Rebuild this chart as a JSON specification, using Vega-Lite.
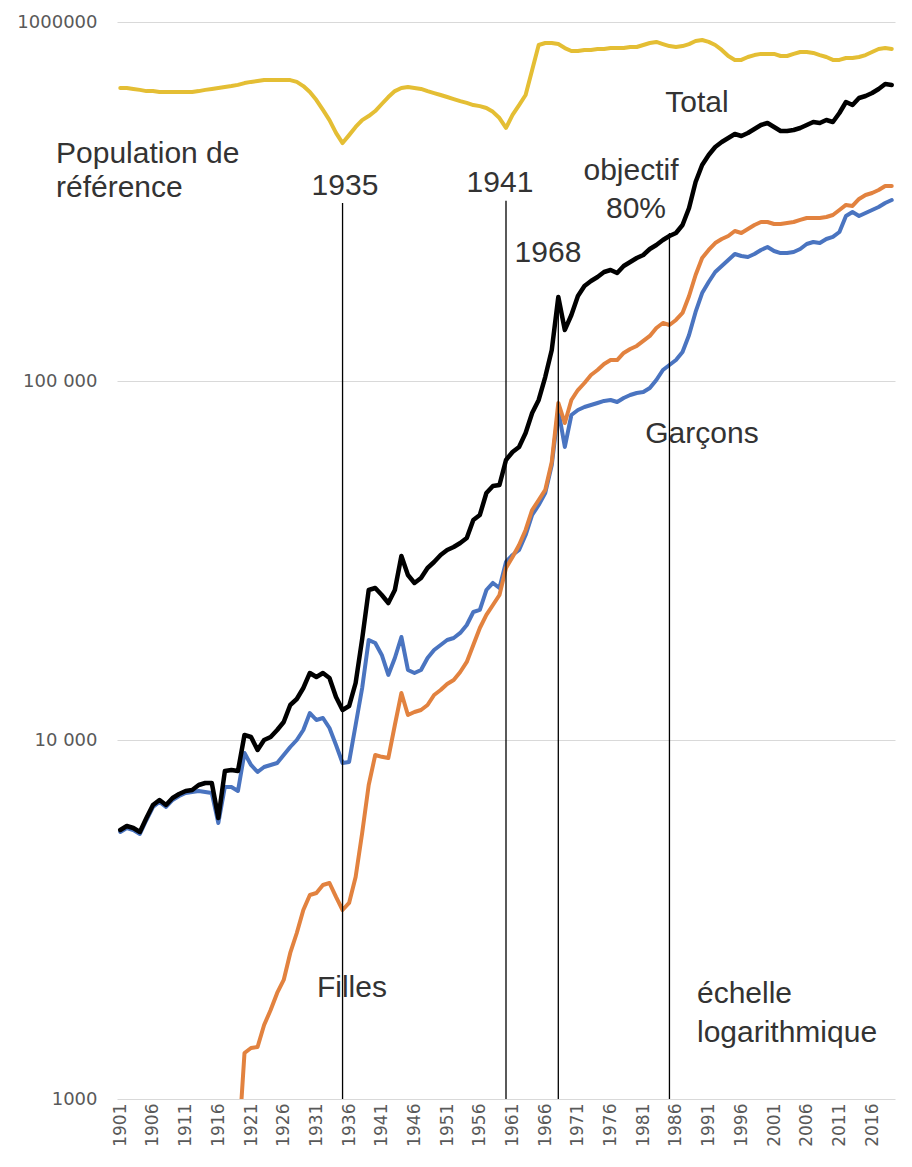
{
  "$schema": "https://vega.github.io/schema/vega-lite/v6.json",
  "width": 778,
  "height": 1077,
  "autosize": {"type": "none"},
  "padding": {"left": 117, "top": 22, "right": 17, "bottom": 68},
  "background": "white",
  "config": {"view": {"stroke": null}},
  "datasets": {
    "annuel": [
      {"year":1901,"pop":655000,"total":5615,"garcons":5543},
      {"year":1902,"pop":655000,"total":5761,"garcons":5687},
      {"year":1903,"pop":651000,"total":5687,"garcons":5615},
      {"year":1904,"pop":647000,"total":5543,"garcons":5473},
      {"year":1905,"pop":642000,"total":6063,"garcons":5987},
      {"year":1906,"pop":642000,"total":6592,"garcons":6507},
      {"year":1907,"pop":638000,"total":6806,"garcons":6719},
      {"year":1908,"pop":638000,"total":6592,"garcons":6507},
      {"year":1909,"pop":638000,"total":6895,"garcons":6806},
      {"year":1910,"pop":638000,"total":7073,"garcons":6982},
      {"year":1911,"pop":638000,"total":7211,"garcons":7120},
      {"year":1912,"pop":638000,"total":7256,"garcons":7165},
      {"year":1913,"pop":642000,"total":7494,"garcons":7211},
      {"year":1914,"pop":647000,"total":7590,"garcons":7165},
      {"year":1915,"pop":651000,"total":7590,"garcons":7120},
      {"year":1916,"pop":655000,"total":6063,"garcons":5872},
      {"year":1917,"pop":659000,"total":8199,"garcons":7398},
      {"year":1918,"pop":663000,"total":8251,"garcons":7398},
      {"year":1919,"pop":668000,"total":8199,"garcons":7211,"filles":700},
      {"year":1920,"pop":676000,"total":10325,"garcons":9200,"filles":1343},
      {"year":1921,"pop":681000,"total":10195,"garcons":8520,"filles":1387},
      {"year":1922,"pop":685000,"total":9381,"garcons":8145,"filles":1396},
      {"year":1923,"pop":689000,"total":10000,"garcons":8410,"filles":1607},
      {"year":1924,"pop":689000,"total":10195,"garcons":8520,"filles":1770},
      {"year":1925,"pop":689000,"total":10664,"garcons":8630,"filles":1974},
      {"year":1926,"pop":689000,"total":11223,"garcons":9082,"filles":2146},
      {"year":1927,"pop":689000,"total":12517,"garcons":9561,"filles":2551},
      {"year":1928,"pop":681000,"total":13008,"garcons":10000,"filles":2900},
      {"year":1929,"pop":663000,"total":13959,"garcons":10664,"filles":3361},
      {"year":1930,"pop":638000,"total":15371,"garcons":11890,"filles":3701},
      {"year":1931,"pop":606000,"total":14983,"garcons":11369,"filles":3748},
      {"year":1932,"pop":569000,"total":15371,"garcons":11515,"filles":3946},
      {"year":1933,"pop":533000,"total":14887,"garcons":10800,"filles":3997},
      {"year":1934,"pop":491000,"total":13176,"garcons":9685,"filles":3654},
      {"year":1935,"pop":460000,"total":12122,"garcons":8630,"filles":3361},
      {"year":1936,"pop":484000,"total":12436,"garcons":8686,"filles":3516},
      {"year":1937,"pop":510000,"total":14413,"garcons":11010,"filles":4153},
      {"year":1938,"pop":533000,"total":19113,"garcons":13959,"filles":5508},
      {"year":1939,"pop":547000,"total":26168,"garcons":18990,"filles":7494},
      {"year":1940,"pop":565000,"total":26508,"garcons":18630,"filles":9082},
      {"year":1941,"pop":591000,"total":25344,"garcons":17250,"filles":8977},
      {"year":1942,"pop":618000,"total":24077,"garcons":15180,"filles":8908},
      {"year":1943,"pop":642000,"total":26168,"garcons":16920,"filles":11010},
      {"year":1944,"pop":655000,"total":32546,"garcons":19360,"filles":13517},
      {"year":1945,"pop":659000,"total":28820,"garcons":15670,"filles":11740},
      {"year":1946,"pop":655000,"total":27376,"garcons":15370,"filles":11970},
      {"year":1947,"pop":651000,"total":28272,"garcons":15670,"filles":12122},
      {"year":1948,"pop":642000,"total":30143,"garcons":16920,"filles":12517},
      {"year":1949,"pop":634000,"total":31325,"garcons":17810,"filles":13347},
      {"year":1950,"pop":626000,"total":32756,"garcons":18390,"filles":13780},
      {"year":1951,"pop":618000,"total":33829,"garcons":18990,"filles":14321},
      {"year":1952,"pop":610000,"total":34483,"garcons":19240,"filles":14690},
      {"year":1953,"pop":602000,"total":35385,"garcons":19870,"filles":15470},
      {"year":1954,"pop":595000,"total":36536,"garcons":20910,"filles":16500},
      {"year":1955,"pop":587000,"total":41016,"garcons":22730,"filles":18390},
      {"year":1956,"pop":583000,"total":42350,"garcons":23030,"filles":20510},
      {"year":1957,"pop":576000,"total":48753,"garcons":26170,"filles":22300},
      {"year":1958,"pop":562000,"total":50991,"garcons":27380,"filles":23770},
      {"year":1959,"pop":540000,"total":51321,"garcons":26510,"filles":25344},
      {"year":1960,"pop":507000,"total":60256,"garcons":31330,"filles":30143},
      {"year":1961,"pop":551000,"total":63417,"garcons":32760,"filles":32340},
      {"year":1962,"pop":587000,"total":65498,"garcons":33830,"filles":34930},
      {"year":1963,"pop":626000,"total":71647,"garcons":37240,"filles":38460},
      {"year":1964,"pop":735000,"total":81453,"garcons":42350,"filles":43720},
      {"year":1965,"pop":863000,"total":88536,"garcons":45140,"filles":46610},
      {"year":1966,"pop":874000,"total":102588,"garcons":48750,"filles":49720},
      {"year":1967,"pop":874000,"total":122039,"garcons":58340,"filles":59490},
      {"year":1968,"pop":868000,"total":171396,"garcons":83030,"filles":86860},
      {"year":1969,"pop":846000,"total":138740,"garcons":65500,"filles":76380},
      {"year":1970,"pop":830000,"total":152722,"garcons":80410,"filles":88540},
      {"year":1971,"pop":830000,"total":172504,"garcons":83030,"filles":94380},
      {"year":1972,"pop":836000,"total":183908,"garcons":84650,"filles":98720},
      {"year":1973,"pop":836000,"total":189934,"garcons":85750,"filles":103900},
      {"year":1974,"pop":841000,"total":194853,"garcons":86860,"filles":107300},
      {"year":1975,"pop":841000,"total":201186,"garcons":87990,"filles":111500},
      {"year":1976,"pop":846000,"total":203795,"garcons":88540,"filles":114400},
      {"year":1977,"pop":846000,"total":199893,"garcons":87420,"filles":114400},
      {"year":1978,"pop":846000,"total":209082,"garcons":89690,"filles":119700},
      {"year":1979,"pop":852000,"total":214551,"garcons":91420,"filles":122800},
      {"year":1980,"pop":852000,"total":220098,"garcons":92600,"filles":125200},
      {"year":1981,"pop":863000,"total":224394,"garcons":93200,"filles":129300},
      {"year":1982,"pop":874000,"total":233190,"garcons":95610,"filles":133500},
      {"year":1983,"pop":880000,"total":239243,"garcons":100640,"filles":140500},
      {"year":1984,"pop":868000,"total":247091,"garcons":107300,"filles":145100},
      {"year":1985,"pop":857000,"total":253496,"garcons":110800,"filles":143200},
      {"year":1986,"pop":852000,"total":258439,"garcons":114400,"filles":147900},
      {"year":1987,"pop":857000,"total":271980,"garcons":120400,"filles":154700},
      {"year":1988,"pop":868000,"total":303386,"garcons":134300,"filles":172500},
      {"year":1989,"pop":885000,"total":358426,"garcons":155700,"filles":197400},
      {"year":1990,"pop":891000,"total":399716,"garcons":175800,"filles":220100},
      {"year":1991,"pop":880000,"total":426135,"garcons":188700,"filles":231700},
      {"year":1992,"pop":863000,"total":448587,"garcons":201200,"filles":242300},
      {"year":1993,"pop":836000,"total":463178,"garcons":209100,"filles":248600},
      {"year":1994,"pop":804000,"total":475271,"garcons":217300,"filles":253500},
      {"year":1995,"pop":784000,"total":487528,"garcons":225800,"filles":261700},
      {"year":1996,"pop":784000,"total":481393,"garcons":222900,"filles":258400},
      {"year":1997,"pop":799000,"total":490680,"garcons":221500,"filles":265100},
      {"year":1998,"pop":809000,"total":503500,"garcons":225800,"filles":271980},
      {"year":1999,"pop":815000,"total":516558,"garcons":231700,"filles":277300},
      {"year":2000,"pop":815000,"total":523263,"garcons":236200,"filles":277300},
      {"year":2001,"pop":815000,"total":509940,"garcons":230200,"filles":273800},
      {"year":2002,"pop":804000,"total":497080,"garcons":227200,"filles":273800},
      {"year":2003,"pop":804000,"total":497080,"garcons":227200,"filles":275600},
      {"year":2004,"pop":815000,"total":500264,"garcons":228700,"filles":277300},
      {"year":2005,"pop":825000,"total":506670,"garcons":233200,"filles":281000},
      {"year":2006,"pop":825000,"total":516558,"garcons":240800,"filles":284400},
      {"year":2007,"pop":820000,"total":526548,"garcons":243900,"filles":284400},
      {"year":2008,"pop":809000,"total":523263,"garcons":242300,"filles":284400},
      {"year":2009,"pop":799000,"total":533389,"garcons":248600,"filles":286300},
      {"year":2010,"pop":784000,"total":526548,"garcons":251900,"filles":290000},
      {"year":2011,"pop":784000,"total":557897,"garcons":260000,"filles":299500},
      {"year":2012,"pop":794000,"total":598697,"garcons":288100,"filles":309300},
      {"year":2013,"pop":794000,"total":587217,"garcons":295600,"filles":307300},
      {"year":2014,"pop":799000,"total":614108,"garcons":288100,"filles":321400},
      {"year":2015,"pop":809000,"total":622083,"garcons":293800,"filles":329700},
      {"year":2016,"pop":825000,"total":634137,"garcons":299500,"filles":334000},
      {"year":2017,"pop":841000,"total":650700,"garcons":305300,"filles":340400},
      {"year":2018,"pop":846000,"total":671800,"garcons":313200,"filles":349300},
      {"year":2019,"pop":841000,"total":667500,"garcons":319300,"filles":349300}
    ],
    "reperes": [
      {"year":1935,"value":313000,"base":1000},
      {"year":1960,"value":318000,"base":1000},
      {"year":1968,"value":171400,"base":1000},
      {"year":1985,"value":258400,"base":1000}
    ],
    "textesCentres": [
      {"label":"1935","year":1935.37,"value":329700},
      {"label":"1941","year":1959.08,"value":336200},
      {"label":"objectif","year":1979.12,"value":362900},
      {"label":"80%","year":1979.88,"value":284400},
      {"label":"1968","year":1966.42,"value":214600},
      {"label":"Total","year":1989.21,"value":561500},
      {"label":"Garçons","year":1989.97,"value":67210},
      {"label":"Filles","year":1936.44,"value":1924}
    ],
    "textesGauche": [
      {"label":"Population de","year":1891.17,"value":404800},
      {"label":"référence","year":1891.17,"value":325500},
      {"label":"échelle","year":1989.21,"value":1851},
      {"label":"logarithmique","year":1989.21,"value":1441}
    ]
  },
  "encoding": {
    "x": {
      "field": "year", "type": "quantitative",
      "scale": {"domain": [1900.5, 2019.5], "nice": false, "zero": false},
      "axis": {
        "title": null, "values": [1901,1906,1911,1916,1921,1926,1931,1936,1941,1946,1951,1956,1961,1966,1971,1976,1981,1986,1991,1996,2001,2006,2011,2016],
        "format": "d", "labelAngle": -90, "ticks": false, "domain": false, "grid": false,
        "labelFont": "DejaVu Sans", "labelFontSize": 17, "labelColor": "#595959",
        "labelPadding": 4, "labelFlush": false, "labelOverlap": false
      }
    },
    "y": {
      "field": "value", "type": "quantitative",
      "scale": {"type": "log", "domain": [1000, 1000000], "nice": false},
      "axis": {
        "title": null, "values": [1000, 10000, 100000, 1000000],
        "labelExpr": "datum.value == 1000000 ? '1000000' : datum.value == 100000 ? '100 000' : datum.value == 10000 ? '10 000' : '1000'",
        "ticks": false, "domain": false, "grid": true, "gridColor": "#D9D9D9", "gridWidth": 1.2,
        "labelFont": "DejaVu Sans", "labelFontSize": 18, "labelColor": "#595959",
        "labelPadding": 20, "labelFlush": false, "labelOverlap": false
      }
    }
  },
  "layer": [
    {
      "data": {"name": "annuel"},
      "transform": [{"fold": ["pop"], "as": ["serie", "value"]}],
      "mark": {"type": "line", "color": "#E4BE34", "strokeWidth": 4, "strokeJoin": "round", "strokeCap": "round", "clip": true}
    },
    {
      "data": {"name": "annuel"},
      "transform": [{"fold": ["garcons"], "as": ["serie", "value"]}],
      "mark": {"type": "line", "color": "#4A74C0", "strokeWidth": 4, "strokeJoin": "round", "strokeCap": "round", "clip": true}
    },
    {
      "data": {"name": "annuel"},
      "transform": [{"fold": ["filles"], "as": ["serie", "value"]}],
      "mark": {"type": "line", "color": "#E2823F", "strokeWidth": 4, "strokeJoin": "round", "strokeCap": "round", "clip": true}
    },
    {
      "data": {"name": "annuel"},
      "transform": [{"fold": ["total"], "as": ["serie", "value"]}],
      "mark": {"type": "line", "color": "#000000", "strokeWidth": 4.5, "strokeJoin": "round", "strokeCap": "round", "clip": true}
    },
    {
      "data": {"name": "reperes"},
      "mark": {"type": "rule", "color": "#000000", "strokeWidth": 1.3},
      "encoding": {"y2": {"field": "base"}}
    },
    {
      "data": {"name": "textesCentres"},
      "mark": {"type": "text", "font": "Liberation Sans", "fontSize": 30, "color": "#333333", "align": "center", "baseline": "alphabetic"},
      "encoding": {"text": {"field": "label"}}
    },
    {
      "data": {"name": "textesGauche"},
      "mark": {"type": "text", "font": "Liberation Sans", "fontSize": 30, "color": "#333333", "align": "left", "baseline": "alphabetic"},
      "encoding": {"text": {"field": "label"}}
    }
  ]
}
